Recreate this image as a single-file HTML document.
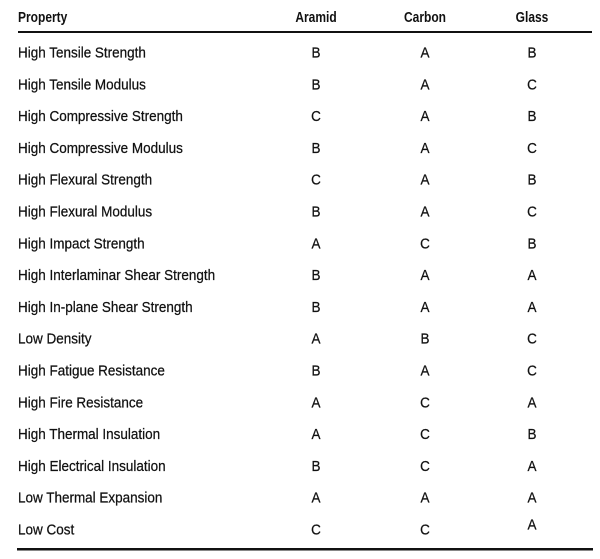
<!DOCTYPE html>
<html><head><meta charset="utf-8"><style>
html,body{margin:0;padding:0;background:#fff;width:600px;height:559px;overflow:hidden}
svg{display:block}
text{font-family:"Liberation Sans",sans-serif;font-size:15px;fill:#111;stroke:#111;stroke-width:0.25}
.h{font-weight:bold;stroke-width:0}
</style></head><body>
<svg width="600" height="559" viewBox="0 0 600 559">
<rect x="18" y="31" width="574" height="2" fill="#111"/>
<rect x="17" y="548" width="576" height="2.5" fill="#111"/>
<g>
<text class="h" transform="translate(18,22) scale(0.8,1)">Property</text>
<text class="h" text-anchor="middle" transform="translate(316,22) scale(0.8,1)">Aramid</text>
<text class="h" text-anchor="middle" transform="translate(425,22) scale(0.8,1)">Carbon</text>
<text class="h" text-anchor="middle" transform="translate(532,22) scale(0.8,1)">Glass</text>
</g>
<g>
<text transform="translate(18,57.5) scale(0.9,1)">High Tensile Strength</text>
<text text-anchor="middle" transform="translate(316,57.5) scale(0.9,1)">B</text><text text-anchor="middle" transform="translate(425,57.5) scale(0.9,1)">A</text><text text-anchor="middle" transform="translate(532,57.5) scale(0.9,1)">B</text>
<text transform="translate(18,89.3) scale(0.9,1)">High Tensile Modulus</text>
<text text-anchor="middle" transform="translate(316,89.3) scale(0.9,1)">B</text><text text-anchor="middle" transform="translate(425,89.3) scale(0.9,1)">A</text><text text-anchor="middle" transform="translate(532,89.3) scale(0.9,1)">C</text>
<text transform="translate(18,121.1) scale(0.9,1)">High Compressive Strength</text>
<text text-anchor="middle" transform="translate(316,121.1) scale(0.9,1)">C</text><text text-anchor="middle" transform="translate(425,121.1) scale(0.9,1)">A</text><text text-anchor="middle" transform="translate(532,121.1) scale(0.9,1)">B</text>
<text transform="translate(18,152.9) scale(0.9,1)">High Compressive Modulus</text>
<text text-anchor="middle" transform="translate(316,152.9) scale(0.9,1)">B</text><text text-anchor="middle" transform="translate(425,152.9) scale(0.9,1)">A</text><text text-anchor="middle" transform="translate(532,152.9) scale(0.9,1)">C</text>
<text transform="translate(18,184.7) scale(0.9,1)">High Flexural Strength</text>
<text text-anchor="middle" transform="translate(316,184.7) scale(0.9,1)">C</text><text text-anchor="middle" transform="translate(425,184.7) scale(0.9,1)">A</text><text text-anchor="middle" transform="translate(532,184.7) scale(0.9,1)">B</text>
<text transform="translate(18,216.5) scale(0.9,1)">High Flexural Modulus</text>
<text text-anchor="middle" transform="translate(316,216.5) scale(0.9,1)">B</text><text text-anchor="middle" transform="translate(425,216.5) scale(0.9,1)">A</text><text text-anchor="middle" transform="translate(532,216.5) scale(0.9,1)">C</text>
<text transform="translate(18,248.3) scale(0.9,1)">High Impact Strength</text>
<text text-anchor="middle" transform="translate(316,248.3) scale(0.9,1)">A</text><text text-anchor="middle" transform="translate(425,248.3) scale(0.9,1)">C</text><text text-anchor="middle" transform="translate(532,248.3) scale(0.9,1)">B</text>
<text transform="translate(18,280.1) scale(0.9,1)">High Interlaminar Shear Strength</text>
<text text-anchor="middle" transform="translate(316,280.1) scale(0.9,1)">B</text><text text-anchor="middle" transform="translate(425,280.1) scale(0.9,1)">A</text><text text-anchor="middle" transform="translate(532,280.1) scale(0.9,1)">A</text>
<text transform="translate(18,311.9) scale(0.9,1)">High In-plane Shear Strength</text>
<text text-anchor="middle" transform="translate(316,311.9) scale(0.9,1)">B</text><text text-anchor="middle" transform="translate(425,311.9) scale(0.9,1)">A</text><text text-anchor="middle" transform="translate(532,311.9) scale(0.9,1)">A</text>
<text transform="translate(18,343.7) scale(0.9,1)">Low Density</text>
<text text-anchor="middle" transform="translate(316,343.7) scale(0.9,1)">A</text><text text-anchor="middle" transform="translate(425,343.7) scale(0.9,1)">B</text><text text-anchor="middle" transform="translate(532,343.7) scale(0.9,1)">C</text>
<text transform="translate(18,375.5) scale(0.9,1)">High Fatigue Resistance</text>
<text text-anchor="middle" transform="translate(316,375.5) scale(0.9,1)">B</text><text text-anchor="middle" transform="translate(425,375.5) scale(0.9,1)">A</text><text text-anchor="middle" transform="translate(532,375.5) scale(0.9,1)">C</text>
<text transform="translate(18,407.3) scale(0.9,1)">High Fire Resistance</text>
<text text-anchor="middle" transform="translate(316,407.3) scale(0.9,1)">A</text><text text-anchor="middle" transform="translate(425,407.3) scale(0.9,1)">C</text><text text-anchor="middle" transform="translate(532,407.3) scale(0.9,1)">A</text>
<text transform="translate(18,439.1) scale(0.9,1)">High Thermal Insulation</text>
<text text-anchor="middle" transform="translate(316,439.1) scale(0.9,1)">A</text><text text-anchor="middle" transform="translate(425,439.1) scale(0.9,1)">C</text><text text-anchor="middle" transform="translate(532,439.1) scale(0.9,1)">B</text>
<text transform="translate(18,470.9) scale(0.9,1)">High Electrical Insulation</text>
<text text-anchor="middle" transform="translate(316,470.9) scale(0.9,1)">B</text><text text-anchor="middle" transform="translate(425,470.9) scale(0.9,1)">C</text><text text-anchor="middle" transform="translate(532,470.9) scale(0.9,1)">A</text>
<text transform="translate(18,502.7) scale(0.9,1)">Low Thermal Expansion</text>
<text text-anchor="middle" transform="translate(316,502.7) scale(0.9,1)">A</text><text text-anchor="middle" transform="translate(425,502.7) scale(0.9,1)">A</text><text text-anchor="middle" transform="translate(532,502.7) scale(0.9,1)">A</text>
<text transform="translate(18,534.5) scale(0.9,1)">Low Cost</text>
<text text-anchor="middle" transform="translate(316,534.5) scale(0.9,1)">C</text><text text-anchor="middle" transform="translate(425,534.5) scale(0.9,1)">C</text><text text-anchor="middle" transform="translate(532,529.5) scale(0.9,1)">A</text>
</g>
</svg>
</body></html>
